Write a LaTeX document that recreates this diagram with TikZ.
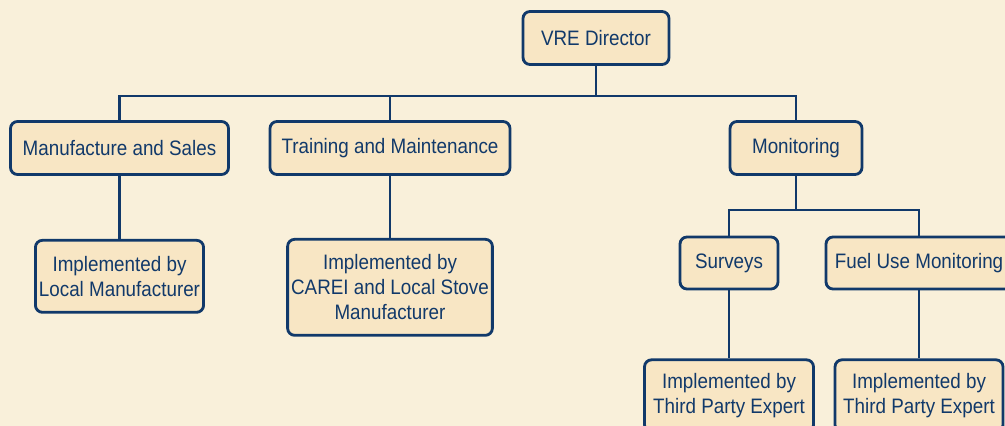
\documentclass[tikz,border=0pt]{standalone}
\usepackage{fontspec}
\setmainfont{Liberation Sans}[FakeStretch=0.9]
\usepackage{tikz}
\usetikzlibrary{positioning, calc}

\definecolor{pagecream}{HTML}{F9F0DA}
\definecolor{boxcream}{HTML}{F8E6C4}
\definecolor{orgnavy}{HTML}{11396A}

\tikzset{
  orgbox/.style={draw=orgnavy, line width=1.6pt, rounded corners=4pt, fill=boxcream,
    text=orgnavy, align=center, inner sep=2pt,
    font=\fontsize{11.9}{14.2}\selectfont},
  orglink/.style={draw=orgnavy, line width=1.6pt}
}

\begin{document}
\begin{tikzpicture}
  \useasboundingbox (0,0) rectangle (20.1,-8.52);
  \fill[pagecream] (0,0) rectangle (20.1,-8.52);
  \clip (0,0) rectangle (20.1,-8.52);

  % top level
  \node (dir) [orgbox, minimum width=2.92cm, minimum height=1.06cm] at (11.92,-0.76) {VRE Director};
  \node (mfg) [orgbox, minimum width=4.36cm, minimum height=1.06cm] at (2.39,-2.96) {Manufacture and Sales};
  \node (train) [orgbox, minimum width=4.8cm, minimum height=1.06cm] at (7.8,-2.96) {Training and Maintenance};
  \node (mon) [orgbox, minimum width=2.64cm, minimum height=1.06cm] at (15.92,-2.96) {Monitoring};

  % second level
  \node (mfgimpl) [orgbox, minimum width=3.36cm, minimum height=1.44cm, below=1.26cm of mfg] {Implemented by\\Local Manufacturer};
  \node (trainimpl) [orgbox, minimum width=4.08cm, minimum height=1.92cm, below=1.24cm of train] {Implemented by\\CAREI and Local Stove\\Manufacturer};
  \node (surv) [orgbox, minimum width=1.96cm, minimum height=1.04cm] at (14.58,-5.26) {Surveys};
  \node (fuel) [orgbox, minimum width=3.72cm, minimum height=1.04cm] at (18.38,-5.26) {Fuel Use Monitoring};

  % third level
  \node (survimpl) [orgbox, minimum width=3.38cm, minimum height=1.44cm, below=1.36cm of surv] {Implemented by\\Third Party Expert};
  \node (fuelimpl) [orgbox, minimum width=3.36cm, minimum height=1.44cm, below=1.36cm of fuel] {Implemented by\\Third Party Expert};

  \coordinate (bus) at (0,-1.92);
  \coordinate (bus2) at (0,-4.2);

  \draw[orglink] (dir.south) -- (dir.south |- bus);
  \draw[orglink] (mfg.north) |- (bus -| mon.north) -- (mon.north);
  \draw[orglink] (train.north) -- (train.north |- bus);
  \draw[orglink] (mfg) -- (mfgimpl);
  \draw[orglink] (train) -- (trainimpl);
  \draw[orglink] (mon.south) -- (mon.south |- bus2);
  \draw[orglink] (surv.north) |- (bus2 -| fuel.north) -- (fuel.north);
  \draw[orglink] (surv) -- (survimpl);
  \draw[orglink] (fuel) -- (fuelimpl);
\end{tikzpicture}
\end{document}
